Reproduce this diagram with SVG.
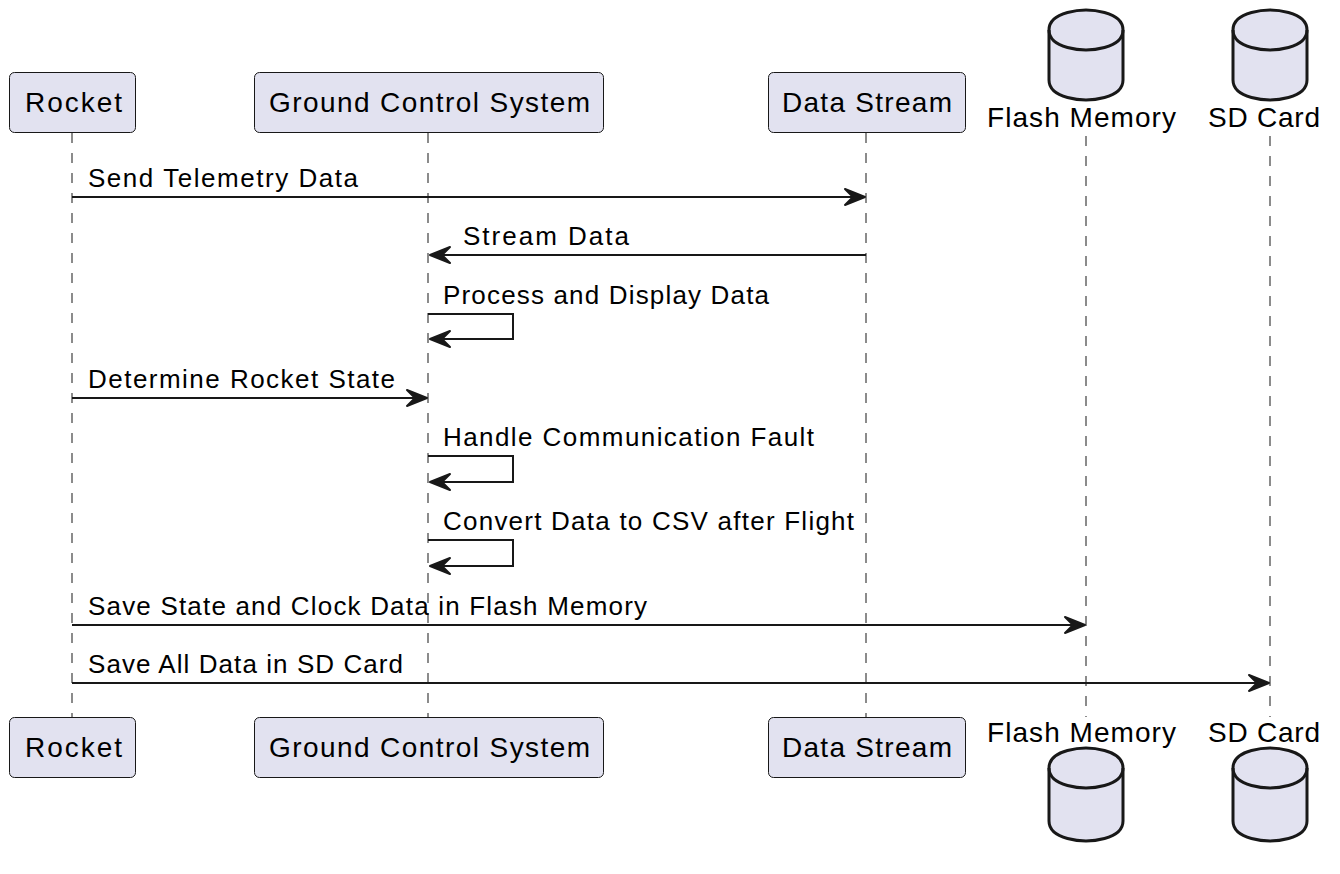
<svg xmlns="http://www.w3.org/2000/svg" width="1340" height="874" viewBox="0 0 1340 874">
<style>
.box{fill:#E2E2F0;stroke:#181818;stroke-width:1}
.db{fill:#E2E2F0;stroke:#181818;stroke-width:3}
.dbl{fill:none;stroke:#181818;stroke-width:3}
.life{stroke:#666;stroke-width:1.5;stroke-dasharray:10,10;fill:none}
.msg{stroke:#181818;stroke-width:2;fill:none}
.pt{font-family:"Liberation Sans",Arial,sans-serif;font-size:28px;fill:#000}
.mt{font-family:"Liberation Sans",Arial,sans-serif;font-size:26px;fill:#000}
</style>
<defs>
<marker id="ah" markerUnits="userSpaceOnUse" markerWidth="26" markerHeight="22" refX="22" refY="10" orient="auto" viewBox="0 0 26 22">
<path d="M2,2 L22,10 L2,18 L10,10 Z" fill="#181818" stroke="#181818" stroke-width="2" stroke-linejoin="round"/>
</marker>
</defs>
<rect width="1340" height="874" fill="#fff"/>
<g id="lifelines">
<line class="life" x1="72" y1="133" x2="72" y2="717"/>
<line class="life" x1="428" y1="133" x2="428" y2="717"/>
<line class="life" x1="866" y1="133" x2="866" y2="717"/>
<line class="life" x1="1086" y1="136" x2="1086" y2="717"/>
<line class="life" x1="1270" y1="136" x2="1270" y2="717"/>
</g>
<g id="rocket">
<rect class="box" x="9.5" y="72.5" width="126" height="60" rx="5"/>
<text class="pt" x="25" y="112" textLength="97" lengthAdjust="spacing">Rocket</text>
<rect class="box" x="9.5" y="717.5" width="126" height="60" rx="5"/>
<text class="pt" x="25" y="757" textLength="97" lengthAdjust="spacing">Rocket</text>
</g>
<g id="gcs">
<rect class="box" x="254.5" y="72.5" width="349" height="60" rx="5"/>
<text class="pt" x="269" y="112" textLength="321" lengthAdjust="spacing">Ground Control System</text>
<rect class="box" x="254.5" y="717.5" width="349" height="60" rx="5"/>
<text class="pt" x="269" y="757" textLength="321" lengthAdjust="spacing">Ground Control System</text>
</g>
<g id="datastream">
<rect class="box" x="768.5" y="72.5" width="197" height="60" rx="5"/>
<text class="pt" x="782" y="112" textLength="170" lengthAdjust="spacing">Data Stream</text>
<rect class="box" x="768.5" y="717.5" width="197" height="60" rx="5"/>
<text class="pt" x="782" y="757" textLength="170" lengthAdjust="spacing">Data Stream</text>
</g>
<g id="flash">
<path class="db" d="M1049,30 C1049,10 1086,10 1086,10 C1086,10 1123,10 1123,30 L1123,80 C1123,100 1086,100 1086,100 C1086,100 1049,100 1049,80 Z"/>
<path class="dbl" d="M1049,30 C1049,50 1086,50 1086,50 C1086,50 1123,50 1123,30"/>
<text class="pt" x="987" y="127" textLength="189" lengthAdjust="spacing">Flash Memory</text>
<text class="pt" x="987" y="742" textLength="189" lengthAdjust="spacing">Flash Memory</text>
<path class="db" d="M1049,768 C1049,748 1086,748 1086,748 C1086,748 1123,748 1123,768 L1123,821 C1123,841 1086,841 1086,841 C1086,841 1049,841 1049,821 Z"/>
<path class="dbl" d="M1049,768 C1049,788 1086,788 1086,788 C1086,788 1123,788 1123,768"/>
</g>
<g id="sdcard">
<path class="db" d="M1233,30 C1233,10 1270,10 1270,10 C1270,10 1307,10 1307,30 L1307,80 C1307,100 1270,100 1270,100 C1270,100 1233,100 1233,80 Z"/>
<path class="dbl" d="M1233,30 C1233,50 1270,50 1270,50 C1270,50 1307,50 1307,30"/>
<text class="pt" x="1208" y="127" textLength="112" lengthAdjust="spacing">SD Card</text>
<text class="pt" x="1208" y="742" textLength="112" lengthAdjust="spacing">SD Card</text>
<path class="db" d="M1233,768 C1233,748 1270,748 1270,748 C1270,748 1307,748 1307,768 L1307,821 C1307,841 1270,841 1270,841 C1270,841 1233,841 1233,821 Z"/>
<path class="dbl" d="M1233,768 C1233,788 1270,788 1270,788 C1270,788 1307,788 1307,768"/>
</g>
<g id="connectors">
<line class="msg" x1="72" y1="197" x2="865" y2="197" marker-end="url(#ah)"/>
<text class="mt" x="88" y="187" textLength="270" lengthAdjust="spacing">Send Telemetry Data</text>
<line class="msg" x1="866" y1="255" x2="430" y2="255" marker-end="url(#ah)"/>
<text class="mt" x="463" y="245" textLength="166" lengthAdjust="spacing">Stream Data</text>
<polyline class="msg" points="428,314 513,314 513,339 430,339" marker-end="url(#ah)"/>
<text class="mt" x="443" y="304" textLength="326" lengthAdjust="spacing">Process and Display Data</text>
<line class="msg" x1="72" y1="398" x2="427" y2="398" marker-end="url(#ah)"/>
<text class="mt" x="88" y="388" textLength="307" lengthAdjust="spacing">Determine Rocket State</text>
<polyline class="msg" points="428,456 513,456 513,482 430,482" marker-end="url(#ah)"/>
<text class="mt" x="443" y="446" textLength="371" lengthAdjust="spacing">Handle Communication Fault</text>
<polyline class="msg" points="428,540 513,540 513,566 430,566" marker-end="url(#ah)"/>
<text class="mt" x="443" y="530" textLength="411" lengthAdjust="spacing">Convert Data to CSV after Flight</text>
<line class="msg" x1="72" y1="625" x2="1085" y2="625" marker-end="url(#ah)"/>
<text class="mt" x="88" y="615" textLength="559" lengthAdjust="spacing">Save State and Clock Data in Flash Memory</text>
<line class="msg" x1="72" y1="683" x2="1269" y2="683" marker-end="url(#ah)"/>
<text class="mt" x="88" y="673" textLength="315" lengthAdjust="spacing">Save All Data in SD Card</text>
</g>
</svg>
